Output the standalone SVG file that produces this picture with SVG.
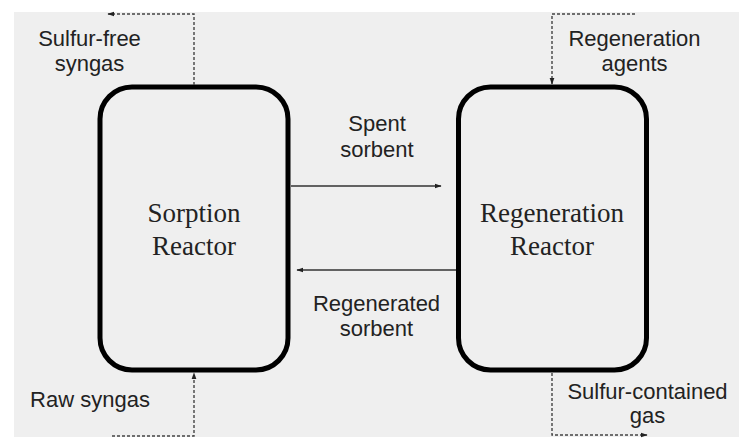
<svg xmlns="http://www.w3.org/2000/svg" width="739" height="439" viewBox="0 0 739 439">
<style>
.bg{fill:#efefef}
.box{fill:#efefef;stroke:#000;stroke-width:5}
.ttl{font-family:"Liberation Serif","Times New Roman",serif;font-size:27px;fill:#222;text-anchor:middle}
.lbl{font-family:"Liberation Sans",Arial,sans-serif;font-size:22px;fill:#222;text-anchor:middle}
.solid{fill:none;stroke:#333;stroke-width:1.3}
.dot{fill:none;stroke:#444;stroke-width:1.4;stroke-dasharray:3 2}
</style>
<defs>
<marker id="ah" viewBox="0 0 10 10" refX="9" refY="5" markerWidth="7" markerHeight="7" markerUnits="userSpaceOnUse" orient="auto">
<path d="M0,1.5 L10,5 L0,8.5 Z" fill="#222"/>
</marker>
</defs>
<rect x="0" y="0" width="739" height="439" fill="#ffffff"/>
<rect class="bg" x="14" y="12" width="725" height="425"/>
<g id="sorption-reactor">
<rect class="box" x="100" y="87" width="188" height="283" rx="32" ry="32"/>
<text class="ttl" x="194" y="222">Sorption</text>
<text class="ttl" x="194" y="255">Reactor</text>
</g>
<g id="regeneration-reactor">
<rect class="box" x="458.5" y="87" width="188" height="283" rx="32" ry="32"/>
<text class="ttl" x="552" y="222">Regeneration</text>
<text class="ttl" x="552" y="255">Reactor</text>
</g>
<g id="connectors">
<line class="solid" x1="291" y1="186" x2="441" y2="186" marker-end="url(#ah)"/>
<line class="solid" x1="456" y1="270" x2="297" y2="270" marker-end="url(#ah)"/>
<polyline class="dot" points="194,85 194,14 108,14" marker-end="url(#ah)"/>
<polyline class="dot" points="635,14 552,14 552,84" marker-end="url(#ah)"/>
<polyline class="dot" points="112,436 194,436 194,373" marker-end="url(#ah)"/>
<polyline class="dot" points="552,373 552,435 647,435" marker-end="url(#ah)"/>
</g>
<g id="labels">
<text class="lbl" x="89.5" y="46">Sulfur-free</text>
<text class="lbl" x="89.5" y="71">syngas</text>
<text class="lbl" x="634.5" y="46">Regeneration</text>
<text class="lbl" x="634.5" y="71">agents</text>
<text class="lbl" x="377" y="131">Spent</text>
<text class="lbl" x="377" y="157">sorbent</text>
<text class="lbl" x="376.5" y="311">Regenerated</text>
<text class="lbl" x="376.5" y="336">sorbent</text>
<text class="lbl" x="90" y="407">Raw syngas</text>
<text class="lbl" x="647.5" y="399">Sulfur-contained</text>
<text class="lbl" x="647.5" y="423">gas</text>
</g>
</svg>
